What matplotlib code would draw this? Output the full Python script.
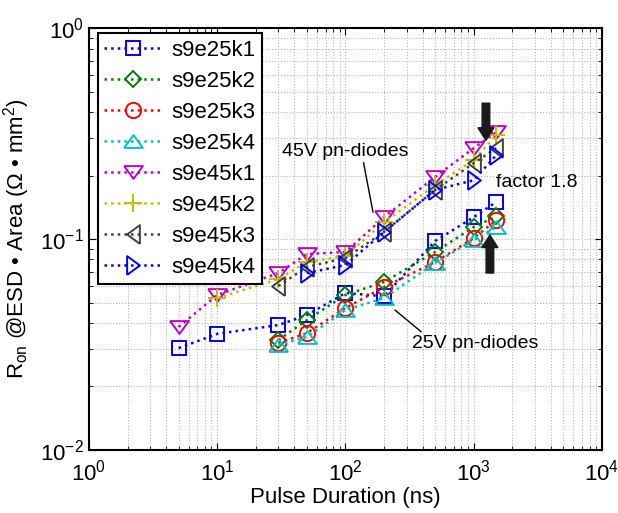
import matplotlib
matplotlib.use('Agg')
import matplotlib.pyplot as plt

plt.rcParams['font.family'] = ['Liberation Sans', 'DejaVu Sans']
plt.rcParams['mathtext.fontset'] = 'custom'
plt.rcParams['mathtext.rm'] = 'Liberation Sans'
plt.rcParams['mathtext.it'] = 'Liberation Sans:italic'
plt.rcParams['mathtext.bf'] = 'Liberation Sans:bold'

# pulse durations (ns)
x_25 = [5, 10, 30, 50, 100, 200, 500, 1000, 1500]
x_25b = [30, 50, 100, 200, 500, 1000, 1500]
x_45k1 = [5, 10, 30, 50, 100, 200, 500, 1000, 1500]
x_45k2 = [10, 30, 50, 100, 200, 500, 1000, 1500]
x_45k3 = [30, 50, 100, 200, 500, 1000, 1500]
x_45k4 = [50, 100, 200, 500, 1000, 1500]

# Ron * Area (Ohm mm^2)
s9e25k1 = [0.0304, 0.0355, 0.0391, 0.0436, 0.0555, 0.0535, 0.0978, 0.127, 0.150]
s9e25k2 = [0.0332, 0.0413, 0.0543, 0.0626, 0.0868, 0.114, 0.128]
s9e25k3 = [0.0321, 0.0358, 0.0471, 0.0592, 0.0778, 0.101, 0.123]
s9e25k4 = [0.0315, 0.0343, 0.0461, 0.0525, 0.0770, 0.0989, 0.114]
s9e45k1 = [0.0383, 0.0543, 0.069, 0.0849, 0.0868, 0.127, 0.197, 0.270, 0.321]
s9e45k2 = [0.0525, 0.0646, 0.0778, 0.0831, 0.120, 0.180, 0.237, 0.311]
s9e45k3 = [0.0599, 0.0737, 0.0813, 0.108, 0.171, 0.229, 0.270]
s9e45k4 = [0.069, 0.0753, 0.108, 0.171, 0.190, 0.250]

names = ['s9e25k1', 's9e25k2', 's9e25k3', 's9e25k4',
         's9e45k1', 's9e45k2', 's9e45k3', 's9e45k4']

# wide MATLAB-like triangles
tri_up = [(-1, -0.68), (1, -0.68), (0, 0.68), (-1, -0.68)]
tri_down = [(-1, 0.68), (1, 0.68), (0, -0.68), (-1, 0.68)]
tri_left = [(0.68, -1), (0.68, 1), (-0.68, 0), (0.68, -1)]
tri_right = [(-0.68, -1), (-0.68, 1), (0.68, 0), (-0.68, -1)]

series = [
    (x_25, s9e25k1, '#0000ff', 's', 9.4),
    (x_25b, s9e25k2, '#008000', 'D', 8.6),
    (x_25b, s9e25k3, '#ff0000', 'o', 11),
    (x_25b, s9e25k4, '#00bfbf', tri_up, 13.5),
    (x_45k1, s9e45k1, '#bf00bf', tri_down, 13.5),
    (x_45k2, s9e45k2, '#bfbf00', '+', 13),
    (x_45k3, s9e45k3, '#404040', tri_left, 13.5),
    (x_45k4, s9e45k4, '#0000ff', tri_right, 13.5),
]

fig = plt.figure(figsize=(6.18, 5.13), dpi=100)
ax = fig.add_axes([0.144, 0.123, 0.830, 0.822])

for (xs, ys, col, mk, ms), name in zip(series, names):
    ax.plot(xs, ys, linestyle=':', color=col, linewidth=1.8,
            marker=mk, markersize=ms, markerfacecolor='none',
            markeredgecolor=col, markeredgewidth=1.4, label=name)

ax.set_xscale('log')
ax.set_yscale('log')
ax.set_xlim(1, 1e4)
ax.set_ylim(1e-2, 1)

ax.grid(True, which='both', linestyle=':', color='#b4b4b4', linewidth=0.8)
ax.tick_params(which='both', direction='in', top=True, right=True,
               labelsize=16)
ax.tick_params(axis='x', pad=7)
ax.tick_params(which='major', length=5)
ax.tick_params(which='minor', length=3)
for sp in ax.spines.values():
    sp.set_linewidth(1.5)

ax.set_xlabel('Pulse Duration (ns)', fontsize=16, labelpad=1)
ax.set_ylabel(r'R$_{\rm on}$ @ESD • Area (Ω • mm$^{2}$)', fontsize=16,
              labelpad=6)

leg = ax.legend(loc='upper left', bbox_to_anchor=(0.017, 0.989),
                fontsize=16, fancybox=False, framealpha=1,
                edgecolor='black', handlelength=2.6, handletextpad=0.4,
                labelspacing=0.45, borderpad=0.3, borderaxespad=0)
leg.get_frame().set_linewidth(1.5)

# annotations
ax.annotate('45V pn-diodes', xy=(164, 0.134), xytext=(32, 0.261),
            fontsize=14, va='center', ha='left',
            arrowprops=dict(arrowstyle='-', color='black', lw=1,
                            shrinkA=0, shrinkB=0,
                            relpos=(0.64, 0)))
ax.annotate('25V pn-diodes', xy=(243, 0.0461), xytext=(330, 0.0321),
            fontsize=14, va='center', ha='left',
            arrowprops=dict(arrowstyle='-', color='black', lw=1,
                            shrinkA=0, shrinkB=0, relpos=(0.1, 1)))
ax.text(1491, 0.186, 'factor 1.8', fontsize=14, va='center', ha='left')

arrow_kw = dict(width=5.5, headwidth=11.5, headlength=9,
                facecolor='#1a1a1a', edgecolor='#1a1a1a', shrink=0)
ax.annotate('', xy=(1246, 0.294), xytext=(1246, 0.441), arrowprops=arrow_kw)
ax.annotate('', xy=(1338, 0.1045), xytext=(1338, 0.069), arrowprops=arrow_kw)

fig.savefig('out.png', dpi=100)
